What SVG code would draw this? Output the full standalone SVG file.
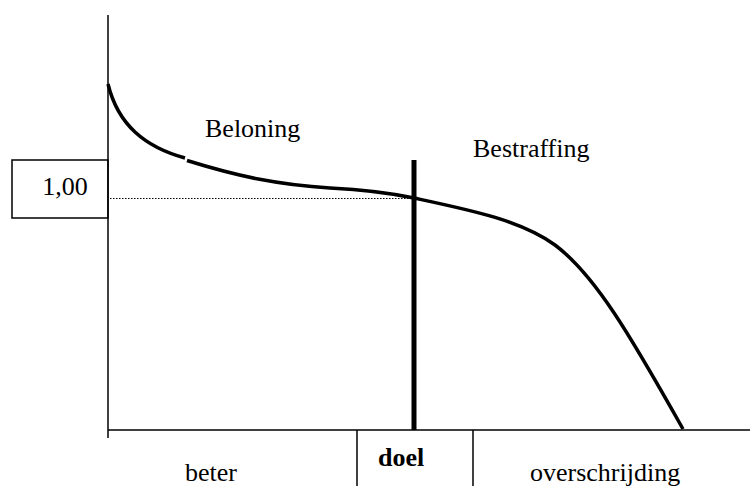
<svg xmlns="http://www.w3.org/2000/svg" width="750" height="486" viewBox="0 0 750 486">
<style>
.ax{stroke:#000;stroke-width:1.5;fill:none}
.cv{stroke:#000;stroke-width:3.5;fill:none;stroke-linecap:butt}
.t{font-family:"Liberation Serif","Times New Roman",serif;font-size:26px;fill:#000}
.b{font-weight:bold}
</style>
<rect width="750" height="486" fill="#fff"/>
<g id="axes">
<line class="ax" x1="108" y1="15" x2="108" y2="438"/>
<line class="ax" x1="108" y1="430" x2="750" y2="430"/>
</g>
<g id="value-box">
<rect class="ax" x="12" y="160" width="96" height="58"/>
<text class="t" x="65" y="195" text-anchor="middle">1,00</text>
</g>
<g id="connectors">
<line x1="110" y1="198.5" x2="413" y2="198.5" stroke="#000" stroke-width="1" stroke-dasharray="1.5,1.5"/>
<path class="cv" d="M108,84 C118,125 145,147 185,158"/>
<path class="cv" d="M187,160.5 C240,177 280,185 330,188 C370,190 395,194 414,198 C470,210 520,220 555,245 C595,275 630,335 683,429"/>
</g>
<g id="goal-line">
<line x1="414" y1="160" x2="414" y2="430" stroke="#000" stroke-width="5"/>
</g>
<g id="labels">
<text class="t" x="205" y="137">Beloning</text>
<text class="t" x="473" y="157">Bestraffing</text>
</g>
<g id="categories">
<line class="ax" x1="357" y1="430" x2="357" y2="486"/>
<line class="ax" x1="473" y1="430" x2="473" y2="486"/>
<text class="t" x="185" y="481">beter</text>
<text class="t b" x="378" y="466">doel</text>
<text class="t" x="530" y="481">overschrijding</text>
</g>
</svg>
